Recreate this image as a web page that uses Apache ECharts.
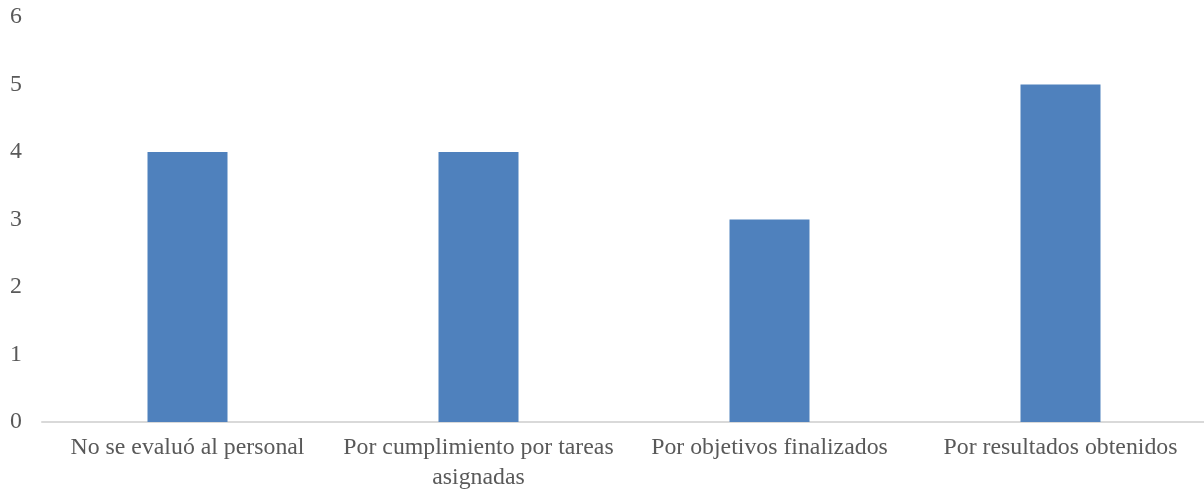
<!DOCTYPE html>
<html>
<head>
<meta charset="utf-8">
<script src="https://cdn.jsdelivr.net/npm/echarts@6/dist/echarts.min.js"></script>
<style>
  html, body { margin: 0; padding: 0; background: #ffffff; }
  #chart { width: 1204px; height: 490px; }
</style>
</head>
<body>
<div id="chart"></div>
<script>
// Evaluation criteria and counts
var categories = [
  'No se evaluó al personal',
  'Por cumplimiento por tareas\nasignadas',
  'Por objetivos finalizados',
  'Por resultados obtenidos'
];
var counts = [4, 4, 3, 5];
var yTicks = { min: 0, max: 6, interval: 1 };

var textFont = { fontFamily: '"Liberation Serif", "Times New Roman", serif', fontSize: 23.8, color: '#595959' };

var chart = echarts.init(document.getElementById('chart'), null, { renderer: 'canvas' });
chart.setOption({
  animation: false,
  backgroundColor: '#ffffff',
  grid: { left: 42, right: -2, top: 17, bottom: 68, containLabel: false, outerBoundsMode: 'none' },
  xAxis: {
    type: 'category',
    data: categories,
    axisLine: { show: true, lineStyle: { color: '#D9D9D9', width: 2 } },
    axisTick: { show: false },
    axisLabel: Object.assign({ margin: 11, interval: 0, lineHeight: 30 }, textFont),
    splitLine: { show: false }
  },
  yAxis: {
    type: 'value',
    min: yTicks.min,
    max: yTicks.max,
    interval: yTicks.interval,
    axisLine: { show: false },
    axisTick: { show: false },
    splitLine: { show: false },
    axisLabel: Object.assign({ margin: 20 }, textFont)
  },
  series: [{
    type: 'bar',
    data: counts,
    barWidth: 80,
    itemStyle: { color: '#4F81BD' }
  }]
});
</script>
</body>
</html>
